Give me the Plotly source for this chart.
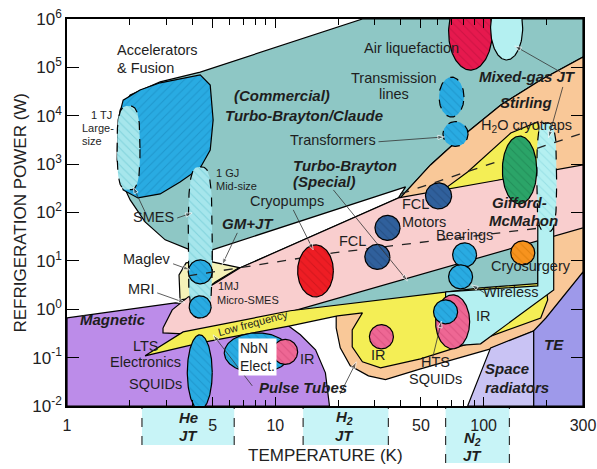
import numpy as np
import plotly.graph_objects as go

FONT = "Liberation Sans, Arial, sans-serif"

# ---------------- cooler-technology regions: outline vertices (T in K, P in W) ----------------
claude_T = [1.76, 1.80, 2.01, 2.80, 4.36, 26.2, 300, 300, 188, 121, 77.5, 55.6, 39.0, 4.98, 3.90, 2.96, 2.37, 2.01, 1.84]
claude_P = [3.2e3, 1.32e4, 2.7e4, 5.0e4, 8.0e4, 1e6, 1e6, 1.64e5, 5.5e4, 1.67e4, 3.5e3, 962, 182, 15.3, 16.9, 27.2, 64, 182, 409]

accel_T = [1.74, 1.76, 1.86, 2.24, 2.80, 4.36, 4.87, 5.03, 4.87, 4.36, 3.49, 2.80, 2.19, 1.86]
accel_P = [1.22e3, 8.2e3, 2.1e4, 3.4e4, 4.8e4, 7.0e4, 4.3e4, 8.2e3, 1.96e3, 834, 429, 242, 200, 293]

stirling_T = [39.0, 55.6, 77.5, 121, 188, 300, 300, 188, 108, 49.8, 33.8, 28.0, 22.9, 20.5, 19.6, 19.6, 22.9]
stirling_P = [182, 962, 3.5e3, 1.67e4, 5.5e4, 1.64e5, 1.72, 0.41, 0.152, 0.0587, 0.035, 0.042, 0.068, 0.159, 0.41, 0.97, 6.5]

gmjt_T = [62.1, 83.8, 135, 182, 199, 62.1]
gmjt_P = [267, 690, 4.4e3, 7.45e3, 834, 220]

gmjt_low_T = [3.49, 3.45, 3.73, 4.98, 6.94, 5.15, 4.12]
gmjt_low_P = [1.56, 5.1, 9.1, 10.5, 7.9, 3.68, 1.72]

gap_T = [4.98, 42.2, 39.0, 6.79, 4.98]
gap_P = [16.9, 338, 200, 7.2, 9.5]

special_T = [10.6, 182, 182, 11.8]
special_P = [0.77, 55, 2.9, 0.84]

magnetic_T = [1.0, 3.31, 7.58, 10.6, 13.2, 15.6, 17.4, 18.2, 1.0]
magnetic_P = [0.66, 1.36, 0.97, 0.60, 0.296, 0.145, 0.0485, 0.01, 0.01]

gm_T = [2.89, 3.20, 3.82, 4.98, 6.79, 39.0, 300, 300, 11.8, 3.61, 2.89]
gm_P = [0.41, 0.97, 1.80, 3.19, 7.2, 200, 962, 48, 0.88, 0.31, 0.325]

pulse_T = [2.37, 3.61, 11.8, 96.7, 199, 203, 188, 96.7, 49.8, 32.0, 26.2, 23.4, 23.4, 26.2, 19.9, 11.8, 4.36]
pulse_P = [0.109, 0.34, 0.93, 2.77, 3.5, 1.56, 0.66, 0.233, 0.094, 0.0615, 0.082, 0.167, 0.375, 0.84, 0.73, 0.454, 0.202]

radiator_T = [83.8, 108, 174, 174]
radiator_P = [0.01, 0.159, 0.358, 0.01]

te_T = [174, 174, 199, 300, 300]
te_P = [0.01, 0.358, 0.66, 5.9, 0.01]

wireless_T = [65.7, 182, 182, 217, 217, 96.7, 71.0, 65.7]
wireless_P = [2.29, 3.04, 53, 61, 2.51, 0.193, 0.175, 0.60]

# dashed stage lines
d1_T = [3.82, 19.0, 188]
d1_P = [4.9, 14.6, 48]
d2_T = [39.9, 300]
d2_P = [242, 4.4e3]

# ---------------- applications: extent in temperature (K) and power (W) ----------------
app_name = ["1 TJ SMES", "1 GJ SMES", "LTS SQUIDs", "Maglev", "MRI", "Cryotrap band",
            "Air liquefaction", "LNG", "Transmission lines", "Transformers", "H2O cryotraps",
            "FCL a", "FCL b", "FCL motors", "Cryopumps", "Bearings a", "Bearings b", "Cryosurgery",
            "IR (HTS)", "HTS SQUIDs", "IR (PT)", "NbN electronics", "IR (NbN)"]
app_Tmin = [1.74, 3.82, 3.78, 3.82, 3.86, 180, 67.9, 108, 61.1, 63.8, 123, 30.1, 26.9, 52.6, 12.8, 71.0, 67.9, 135, 58.8, 57.5, 28.3, 5.69, 9.72]
app_Tmax = [2.24, 4.98, 4.98, 4.98, 4.92, 224, 110, 154, 80.5, 84.2, 180, 39.7, 35.5, 70.2, 19.0, 92.5, 88.5, 176, 85.7, 75.0, 36.9, 11.8, 12.8]
app_Pmin = [293, 0.66, 0.0083, 3.35, 0.66, 39.8, 8.8e4, 1.42e5, 9.4e3, 2.32e3, 151, 26.5, 6.67, 119, 1.80, 7.5, 2.64, 8.3, 0.152, 0.50, 0.152, 0.0485, 0.0726]
app_Pmax = [1.59e4, 875, 0.296, 10.5, 1.89, 7.1e3, 3.3e6, 3.0e6, 6.3e4, 7.6e3, 3.8e3, 87.1, 21.9, 409, 21.4, 23.6, 8.3, 25.9, 1.99, 1.56, 0.48, 0.325, 0.239]

# ---------------- text labels ----------------
lbl_text = ["Accelerators", "& Fusion", "1 TJ", "Large-", "size", "Air liquefaction", "Transmission", "lines",
            "(Commercial)", "Turbo-Brayton/Claude", "Transformers", "Mixed-gas JT", "Stirling",
            "H<sub>2</sub>O cryotraps", "1 GJ", "Mid-size", "Turbo-Brayton", "(Special)", "Cryopumps",
            "GM+JT", "FCL", "FCL", "Motors", "Gifford-", "McMahon", "Bearings", "Cryosurgery", "Wireless",
            "IR", "IR", "IR", "HTS", "SQUIDs", "Space", "radiators", "TE", "Pulse Tubes", "LTS",
            "Electronics", "SQUIDs", "Magnetic", "Maglev", "MRI", "SMES", "1MJ", "Micro-SMES"]
lbl_T = [1.70, 1.70, 1.47, 1.155, 1.155, 45.1, 37.3, 37.3, 10.8, 13.8, 19.0, 163, 159, 161, 5.09, 5.09,
         11.9, 11.9, 11.4, 7.42, 23.4, 39.9, 39.9, 149, 156, 81.0, 168, 135, 100, 31.3, 14.2, 58.8, 58.8,
         98.9, 98.9, 217, 13.6, 2.40, 2.37, 2.65, 1.13, 2.42, 2.27, 2.59, 5.20, 5.15]
lbl_P = [2.08e5, 8.8e4, 9.4e3, 5.1e3, 2.74e3, 2.3e5, 5.5e4, 2.56e4, 2.33e4, 9.4e3, 2.9e3, 5.8e4, 1.67e4,
         5.6e3, 598, 322, 834, 390, 158, 52.8, 23.6, 137, 58, 144, 61, 31.3, 7.2, 2.08, 0.66, 0.104,
         0.086, 0.0745, 0.0332, 0.0533, 0.0216, 0.167, 0.0216, 0.159, 0.0745, 0.0261, 0.55, 10.0, 2.40,
         73.8, 2.77, 1.42]
lbl_kind = ["n", "n", "s", "s", "s", "n", "n", "n", "b", "b", "n", "b", "b", "n", "s", "s", "b", "b", "n",
            "b", "n", "n", "n", "b", "b", "n", "n", "n", "n", "n", "n", "n", "n", "b", "b", "b", "b", "n",
            "n", "n", "b", "n", "n", "n", "s", "s"]
lbl_anchor = ["l", "l", "c", "l", "l", "c", "c", "c", "c", "c", "c", "c", "c", "c", "l", "l", "l", "l", "c",
              "c", "c", "l", "l", "c", "c", "c", "c", "c", "c", "c", "c", "c", "c", "l", "l", "c", "c", "c",
              "c", "c", "l", "c", "c", "c", "l", "l"]

# leader arrows: tail (T0,P0) -> head (T1,P1)
arr_T0 = [3.38, 2.37, 3.23, 2.71, 6.57, 12.2, 19.0, 31.3, 234, 240, 101, 56.9, 7.75, 20.5]
arr_P0 = [77, 103, 8.7, 2.18, 37.9, 113, 293, 2.9e3, 8.0e4, 3.94e4, 2.18, 0.099, 0.0261, 0.0179]
arr_T1 = [3.99, 2.08, 3.90, 3.69, 5.56, 15.2, 43.1, 64.9, 141, 205, 87.5, 62.8, 5.03, 24.5]
arr_P1 = [98, 338, 6.5, 1.36, 8.3, 16.9, 3.86, 3.65e3, 2.77e5, 3.5e3, 3.19, 0.57, 0.296, 0.082]

# JT ranges shown below the temperature axis
jt_label = ["<b><i>He</i></b>", "<b><i>H<sub>2</sub></i></b>", "<b><i>N<sub>2</sub></i></b>"]
jt_Tlo = [2.29, 13.6, 65.7]
jt_Thi = [6.35, 34.9, 133]
jt_Tlabel = [3.85, 21.5, 88]

x_tick_vals = [1, 5, 10, 50, 100, 300]
x_tick_text = ["1", "5", "10", "50", "100", "300"]
x_minor_vals = [2, 3, 4, 6, 7, 8, 9, 20, 30, 40, 60, 70, 80, 90, 200]
y_tick_vals = [1e-2, 1e-1, 1e0, 1e1, 1e2, 1e3, 1e4, 1e5, 1e6]
y_tick_text = ["10<sup>-2</sup>", "10<sup>-1</sup>", "10<sup>0</sup>", "10<sup>1</sup>", "10<sup>2</sup>",
               "10<sup>3</sup>", "10<sup>4</sup>", "10<sup>5</sup>", "10<sup>6</sup>"]

# ---------------- styles ----------------
TEAL = "#8EC7C5"
ORANGE = "#F9C898"
PINK = "#F9CECE"
YELLOW = "#F4EE55"
PALEY = "#F5F2B8"
PURPLE = "#BC8CE9"
LAV = "#C9C3F4"
TEV = "#9E99EA"
LCYAN = "#B4F0F1"
BLUE = "#29ABE2"
DCYAN = "#A6E6EC"

BLUEH = (BLUE, "#1683B8", "solid", 2)
app_style = {
    "1 TJ SMES": (DCYAN, "#5DBFCB", "dash", 3.2),
    "1 GJ SMES": (DCYAN, "#5DBFCB", "dash", 3.5),
    "LTS SQUIDs": BLUEH,
    "Maglev": BLUEH,
    "MRI": BLUEH,
    "Cryotrap band": (LCYAN, "#7FD3DA", "dash", 3.5),
    "Air liquefaction": ("#E6194E", "#B30E3A", "solid", 2),
    "LNG": (LCYAN, None, "solid", 2),
    "Transmission lines": (BLUE, "#1683B8", "dash", 2),
    "Transformers": (BLUE, "#1683B8", "dash", 2),
    "H2O cryotraps": ("#2BA468", "#1B7A4C", "solid", 2),
    "FCL a": ("#30609C", "#1C3F6D", "solid", 2),
    "FCL b": ("#30609C", "#1C3F6D", "solid", 2),
    "FCL motors": ("#30609C", "#1C3F6D", "solid", 2),
    "Cryopumps": ("#EE1D24", "#B81016", "solid", 2),
    "Bearings a": BLUEH,
    "Bearings b": BLUEH,
    "Cryosurgery": ("#F7931E", "#C96F00", "solid", 2),
    "IR (HTS)": ("#EE6794", "#C8416F", "solid", 2),
    "HTS SQUIDs": BLUEH,
    "IR (PT)": ("#EE6794", "#C8416F", "solid", 2),
    "NbN electronics": BLUEH,
    "IR (NbN)": ("#EE6794", "#C8416F", "solid", 2),
}
early_apps = ["1 TJ SMES", "1 GJ SMES", "LTS SQUIDs", "Maglev", "MRI", "Cryotrap band"]

fig = go.Figure()


def region(T, P, color, width=1.2, dash="solid", hatch=None, hshape="/"):
    T = list(T) + [T[0]]
    P = list(P) + [P[0]]
    kw = {}
    if hatch:
        kw["fillpattern"] = dict(shape=hshape, bgcolor=color, fgcolor=hatch, size=6, solidity=0.18)
    fig.add_trace(go.Scatter(x=T, y=P, mode="lines", fill="toself", fillcolor=color,
                             line=dict(color="black", width=width, dash=dash),
                             hoverinfo="skip", showlegend=False, **kw))


def app_outline(i):
    lx0, lx1 = np.log10(app_Tmin[i]), np.log10(app_Tmax[i])
    ly0, ly1 = np.log10(app_Pmin[i]), np.log10(app_Pmax[i])
    n = app_style[app_name[i]][3]
    t = np.linspace(0, 2 * np.pi, 161)
    c, s = np.cos(t), np.sin(t)
    e = 2.0 / n
    x = (lx0 + lx1) / 2 + (lx1 - lx0) / 2 * np.sign(c) * np.abs(c) ** e
    y = (ly0 + ly1) / 2 + (ly1 - ly0) / 2 * np.sign(s) * np.abs(s) ** e
    return 10 ** x, 10 ** y


def draw_app(name):
    i = app_name.index(name)
    col, hatch, dash, _ = app_style[name]
    T, P = app_outline(i)
    region(T[:-1], P[:-1], col, width=1.2, dash=dash, hatch=hatch, hshape="\\")


region(claude_T, claude_P, TEAL)
region(accel_T, accel_P, BLUE, hatch="#1683B8", hshape="/")
region(stirling_T, stirling_P, ORANGE)
region(gmjt_T, gmjt_P, YELLOW)
region(gmjt_low_T, gmjt_low_P, PALEY)
region(gap_T, gap_P, "white")
region(special_T, special_P, TEAL)
region(magnetic_T, magnetic_P, PURPLE)
region(gm_T, gm_P, PINK)
region(pulse_T, pulse_P, YELLOW)
region(radiator_T, radiator_P, LAV)
region(te_T, te_P, TEV)
region(wireless_T, wireless_P, LCYAN)

for nm in early_apps:
    draw_app(nm)

for T, P in [(d1_T, d1_P), (d2_T, d2_P)]:
    fig.add_trace(go.Scatter(x=T, y=P, mode="lines", line=dict(color="#222", width=1.3, dash="dash"),
                             hoverinfo="skip", showlegend=False))

for nm in app_name:
    if nm not in early_apps:
        draw_app(nm)

# leader lines with arrow heads
for T0, P0, T1, P1 in zip(arr_T0, arr_P0, arr_T1, arr_P1):
    fig.add_trace(go.Scatter(x=[T0, T1], y=[P0, P1], mode="lines+markers",
                             line=dict(color="#333", width=0.8),
                             marker=dict(symbol="arrow", size=[0, 7], angleref="previous", color="#333"),
                             hoverinfo="skip", showlegend=False))

lg = lambda v: float(np.log10(v))
ann = []
sizes = {"n": 14.5, "s": 11, "b": 15}
for t, T, P, k, a in zip(lbl_text, lbl_T, lbl_P, lbl_kind, lbl_anchor):
    txt = f"<b><i>{t}</i></b>" if k == "b" else t
    ann.append(dict(x=lg(T), y=lg(P), xref="x", yref="y", text=txt, showarrow=False,
                    xanchor="left" if a == "l" else "center", yanchor="middle", yshift=2,
                    font=dict(family=FONT, size=sizes[k], color="#1e1e1e")))
ann.append(dict(x=lg(8.19), y=lg(0.104), xref="x", yref="y", text="NbN<br>Elect.", showarrow=False,
                align="left", bgcolor="white", borderpad=1,
                font=dict(family=FONT, size=14, color="#1e1e1e")))
ann.append(dict(x=lg(7.84), y=lg(0.52), xref="x", yref="y", text="Low frequency", showarrow=False,
                textangle=-15, font=dict(family=FONT, size=11, color="#1e1e1e")))

shapes = []
for lab, lo, hi, xl, bot in zip(jt_label, jt_Tlo, jt_Thi, jt_Tlabel, [-0.1008, -0.1008, -0.147]):
    shapes.append(dict(type="rect", xref="x", yref="paper", x0=lo, x1=hi, y0=bot, y1=0,
                       fillcolor="#C8F4F7", line=dict(width=0), layer="below"))
    for xv in (lo, hi):
        shapes.append(dict(type="line", xref="x", yref="paper", x0=xv, x1=xv, y0=bot, y1=0,
                           line=dict(color="#333", width=1.2, dash="dash"), layer="below"))
    top = -0.031 if bot > -0.12 else -0.084
    ann.append(dict(x=lg(xl), y=top, xref="x", yref="paper", text=lab, showarrow=False,
                    font=dict(family=FONT, size=15, color="#1e1e1e"), yanchor="middle"))
    ann.append(dict(x=lg(xl), y=top - 0.044, xref="x", yref="paper", text="<b><i>JT</i></b>", showarrow=False,
                    font=dict(family=FONT, size=15, color="#1e1e1e"), yanchor="middle"))

ann.append(dict(x=0.5, y=-0.129, xref="paper", yref="paper", text="TEMPERATURE (K)", showarrow=False,
                font=dict(family=FONT, size=17, color="#222"), yanchor="middle"))
ann.append(dict(x=-0.091, y=0.5, xref="paper", yref="paper", text="REFRIGERATION POWER (W)",
                showarrow=False, textangle=-90, font=dict(family=FONT, size=17, color="#222"),
                xanchor="center", yanchor="middle"))

fig.update_layout(width=597, height=469, autosize=False, margin=dict(l=67, r=14, t=19, b=63, autoexpand=False),
                  paper_bgcolor="white", plot_bgcolor="white", showlegend=False,
                  annotations=ann, shapes=shapes)
fig.update_xaxes(type="log", range=[0, np.log10(300)], tickmode="array", tickvals=x_tick_vals,
                 ticktext=x_tick_text, ticks="inside", ticklen=9, tickwidth=1.3, tickcolor="black",
                 showline=True, linecolor="black", linewidth=1.6, mirror="ticks", showgrid=False,
                 zeroline=False, automargin=False, tickfont=dict(family=FONT, size=16, color="#222"),
                 ticklabelstandoff=4,
                 minor=dict(tickmode="array", tickvals=x_minor_vals, ticks="inside", ticklen=6,
                            tickwidth=1.2, tickcolor="black", showgrid=False))
fig.update_yaxes(type="log", range=[-2, 6], tickmode="array", tickvals=y_tick_vals, ticktext=y_tick_text,
                 ticks="inside", ticklen=12, tickwidth=1.4, tickcolor="black", showline=True,
                 linecolor="black", linewidth=1.6, mirror="ticks", showgrid=False, zeroline=False,
                 automargin=False, tickfont=dict(family=FONT, size=17, color="#222"))

fig.write_html("out.html", config={"displayModeBar": False, "responsive": False},
               post_script="document.body.style.margin='0';document.body.style.overflow='hidden';"
                           "document.documentElement.style.overflow='hidden';")
